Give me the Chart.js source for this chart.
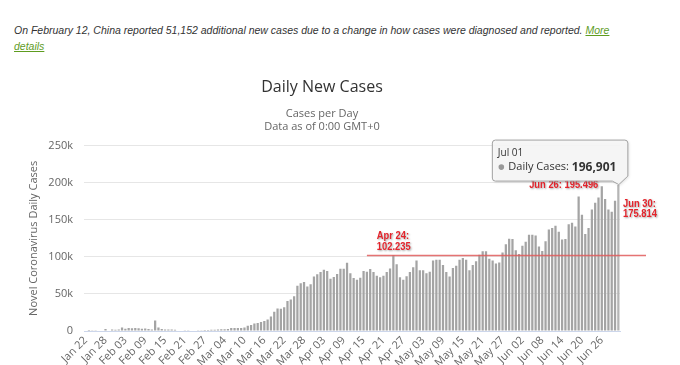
<!DOCTYPE html>
<html>
<head>
<meta charset="utf-8">
<script src="https://cdn.jsdelivr.net/npm/chart.js@4.4.1/dist/chart.umd.min.js"></script>
<style>
  html, body { margin: 0; padding: 0; background: #fff; width: 680px; height: 365px; overflow: hidden; }
  .note {
    position: absolute; left: 14px; top: 22px; width: 605px;
    font: italic 10.5px "Liberation Sans", Arial, sans-serif; line-height: 16px; color: #333;
  }
  .note a { color: #5e9c1f; text-decoration: underline; }
  #wrap { position: absolute; left: 0; top: 70px; width: 680px; height: 300px; }
</style>
</head>
<body>
<div class="note">On February 12, China reported 51,152 additional new cases due to a change in how cases were diagnosed and reported. <a href="#">More details</a></div>
<div id="wrap"><canvas id="chart"></canvas></div>
<script>
// daily new cases, Jan 22 - Jul 01
const monthNames = ['Jan', 'Feb', 'Mar', 'Apr', 'May', 'Jun', 'Jul'];
const monthFirstDay = [22, 1, 1, 1, 1, 1, 1];
const monthLastDay = [31, 29, 31, 30, 31, 30, 1];

const casesJan = [0, 99, 287, 493, 684, 809, 2651, 588, 2068, 1693];
const casesFeb = [2111, 4749, 3094, 4011, 3743, 3915, 3721, 3170, 3418, 2607,
  2091, 14100, 4800, 2700, 2100, 2050, 1900, 1850, 550, 600,
  1000, 1000, 600, 600, 850, 950, 1200, 1350, 1800];
const casesMar = [1850, 1950, 2450, 2300, 2750, 3900, 3950, 4000, 4000, 4600,
  7000, 8100, 10200, 10800, 12000, 13500, 15500, 19500, 26000, 30500,
  30000, 32000, 40500, 42500, 47000, 61000, 64500, 66000, 60000, 63000, 73500];
const casesApr = [76500, 79500, 82500, 81000, 70500, 73000, 77000, 84000, 84000, 92000,
  78000, 71500, 69000, 72000, 81000, 80000, 83500, 79500, 74500, 72500,
  74500, 79500, 84500, 102235, 90000, 72500, 69000, 74000, 79500, 86000];
const casesMay = [95000, 82000, 82000, 78000, 80000, 95000, 96000, 96000, 89000, 79500,
  73500, 85000, 88000, 96000, 98500, 96000, 82000, 89000, 94000, 103000,
  107500, 107500, 97500, 95000, 91000, 92500, 106000, 117000, 124500, 124000, 109000];
const casesJun = [104000, 115000, 120500, 130000, 130000, 129000, 114000, 108000, 121000, 137000,
  139000, 142000, 134000, 123500, 124000, 144000, 146000, 141000, 181500, 157000,
  131000, 139000, 164000, 173000, 180000, 195496, 178000, 164000, 161000, 175814];
const casesJul = [196901];

const tickLabels = ['Jan 22', 'Jan 28', 'Feb 03', 'Feb 09', 'Feb 15', 'Feb 21', 'Feb 27',
  'Mar 04', 'Mar 10', 'Mar 16', 'Mar 22', 'Mar 28', 'Apr 03', 'Apr 09', 'Apr 15', 'Apr 21',
  'Apr 27', 'May 03', 'May 09', 'May 15', 'May 21', 'May 27', 'Jun 02', 'Jun 08', 'Jun 14',
  'Jun 20', 'Jun 26'];

const yTicks = [0, 50000, 100000, 150000, 200000, 250000];

// red notes drawn on top of the chart
const noteLabels = [
  { date: 'Apr 24', lines: ['Apr 24:', '102.235'] },
  { date: 'Jun 26', lines: ['Jun 26: 195.496'] },
  { date: 'Jun 30', lines: ['Jun 30:', '175.814'] },
];
const refLineValue = 102235;
const refLineFrom = 'Apr 16';
const tooltipDate = 'Jul 01';

const categories = [];
monthNames.forEach((m, i) => {
  for (let d = monthFirstDay[i]; d <= monthLastDay[i]; d++) {
    categories.push(m + ' ' + String(d).padStart(2, '0'));
  }
});
const dailyCases = [].concat(casesJan, casesFeb, casesMar, casesApr, casesMay, casesJun, casesJul);

const FONT = '"Open Sans", "Liberation Sans", sans-serif';
const RED_FONT = 'bold 11px "Liberation Sans", Arial, sans-serif';
const SQUASH = 0.85; // the red notes use a narrow bold face
Chart.defaults.font.family = FONT;

// text squeezed horizontally; align 'left' or 'right' at x
function narrowText(ctx, text, x, y, align) {
  ctx.save();
  ctx.translate(x, y);
  ctx.scale(SQUASH, 1);
  ctx.textAlign = align;
  ctx.fillText(text, 0, 0);
  ctx.restore();
}

const notesPlugin = {
  id: 'notes',
  afterDatasetsDraw(chart) {
    const { ctx, chartArea, scales: { x, y } } = chart;
    // horizontal reference line
    const ly = Math.round(y.getPixelForValue(refLineValue)) + 0.5;
    ctx.save();
    ctx.strokeStyle = 'rgba(224, 90, 90, 0.85)';
    ctx.lineWidth = 1.4;
    ctx.beginPath();
    ctx.moveTo(x.getPixelForValue(categories.indexOf(refLineFrom)), ly);
    ctx.lineTo(chartArea.right + 26, ly);
    ctx.stroke();
    ctx.restore();
  },
  afterDraw(chart) {
    const { ctx, scales: { x, y } } = chart;
    ctx.save();
    ctx.font = RED_FONT;
    ctx.fillStyle = '#e4232b';
    ctx.shadowColor = 'rgba(0,0,0,0.35)';
    ctx.shadowBlur = 2;
    ctx.shadowOffsetX = 1;
    ctx.shadowOffsetY = 1;
    ctx.textBaseline = 'middle';
    noteLabels.forEach(n => {
      const i = categories.indexOf(n.date);
      const bx = x.getPixelForValue(i);
      const by = y.getPixelForValue(dailyCases[i]);
      if (n.date === 'Apr 24') {
        narrowText(ctx, n.lines[0], bx - 16.5, by - 19, 'left');
        narrowText(ctx, n.lines[1], bx - 16.5, by - 8.5, 'left');
      } else if (n.date === 'Jun 26') {
        narrowText(ctx, n.lines[0], bx - 3.5, by - 1.5, 'right');
      } else {
        narrowText(ctx, n.lines[0], bx + 8, by + 3, 'left');
        narrowText(ctx, n.lines[1], bx + 8, by + 13.5, 'left');
      }
    });
    ctx.restore();

    // hover tooltip on the last day
    const ti = categories.indexOf(tooltipDate);
    const tx = x.getPixelForValue(ti);
    const ty = y.getPixelForValue(dailyCases[ti]);
    const left = tx - 126, right = tx + 9.5, top = ty - 45, bottom = ty - 4, r = 3;
    ctx.save();
    ctx.beginPath();
    ctx.moveTo(left + r, top);
    ctx.lineTo(right - r, top);
    ctx.arcTo(right, top, right, top + r, r);
    ctx.lineTo(right, bottom - 5);
    ctx.lineTo(tx + 0.5, ty - 0.5);
    ctx.lineTo(tx - 6, bottom);
    ctx.lineTo(left + r, bottom);
    ctx.arcTo(left, bottom, left, bottom - r, r);
    ctx.lineTo(left, top + r);
    ctx.arcTo(left, top, left + r, top, r);
    ctx.closePath();
    ctx.shadowColor = 'rgba(0,0,0,0.15)';
    ctx.shadowBlur = 3;
    ctx.shadowOffsetX = 1;
    ctx.shadowOffsetY = 1;
    ctx.fillStyle = 'rgba(247,247,247,0.9)';
    ctx.fill();
    ctx.shadowColor = 'transparent';
    ctx.strokeStyle = '#a3a3a3';
    ctx.lineWidth = 1;
    ctx.stroke();

    ctx.fillStyle = '#333';
    ctx.textBaseline = 'middle';
    ctx.textAlign = 'left';
    ctx.font = '10px ' + FONT;
    ctx.fillText(tooltipDate, left + 5.5, top + 13);
    ctx.fillStyle = '#999';
    ctx.beginPath();
    ctx.arc(left + 9, top + 27, 2.8, 0, Math.PI * 2);
    ctx.fill();
    ctx.fillStyle = '#333';
    ctx.font = '11px ' + FONT;
    const lab = 'Daily Cases: ';
    ctx.fillText(lab, left + 16, top + 27);
    const w = ctx.measureText(lab).width;
    ctx.font = 'bold 12px ' + FONT;
    ctx.fillText(dailyCases[ti].toLocaleString('en-US'), left + 16 + w, top + 27);
    ctx.restore();
  }
};

new Chart(document.getElementById('chart'), {
  type: 'bar',
  data: {
    labels: categories,
    datasets: [{
      label: 'Daily Cases',
      data: dailyCases,
      backgroundColor: ctx => ctx.dataIndex === dailyCases.length - 1 ? '#b5b5b5' : '#a4a4a4',
      barPercentage: 0.68,
      categoryPercentage: 1,
    }],
  },
  options: {
    responsive: true,
    maintainAspectRatio: false,
    animation: false,
    events: [],
    layout: { padding: { left: 10, right: 46, top: 0, bottom: 0 } },
    plugins: {
      legend: { display: false },
      tooltip: { enabled: false },
      title: {
        display: true,
        text: 'Daily New Cases',
        color: '#333',
        font: { size: 16, weight: 'normal' },
        padding: { top: 8, bottom: 10 },
      },
      subtitle: {
        display: true,
        text: ['Cases per Day', 'Data as of 0:00 GMT+0'],
        color: '#666',
        font: { size: 11, lineHeight: 1.22 },
        padding: { top: 0, bottom: 11.7 },
      },
    },
    scales: {
      x: {
        grid: { display: false, drawTicks: false },
        border: { display: true, color: '#ccd6eb' },
        ticks: {
          autoSkip: false,
          minRotation: 45,
          maxRotation: 45,
          padding: 3,
          color: '#666',
          font: { size: 11 },
          callback: function (v) {
            const l = this.getLabelForValue(v);
            return tickLabels.includes(l) ? l : null;
          },
        },
        afterFit(scale) {
          scale.height = 39;
          scale.paddingRight = 60;
        },
      },
      y: {
        min: yTicks[0],
        max: yTicks[yTicks.length - 1],
        afterBuildTicks(scale) { scale.ticks = yTicks.map(v => ({ value: v })); },
        grid: { color: '#e6e6e6', drawTicks: false },
        border: { display: false },
        ticks: {
          padding: 11,
          color: '#666',
          font: { size: 11 },
          callback: v => v === 0 ? '0' : (v / 1000) + 'k',
        },
        title: {
          display: true,
          text: 'Novel Coronavirus Daily Cases',
          color: '#666',
          font: { size: 11 },
          padding: { top: 17.4, bottom: 0 },
        },
        afterFit(scale) { scale.width = 74; },
      },
    },
  },
  plugins: [notesPlugin],
});
</script>
</body>
</html>
